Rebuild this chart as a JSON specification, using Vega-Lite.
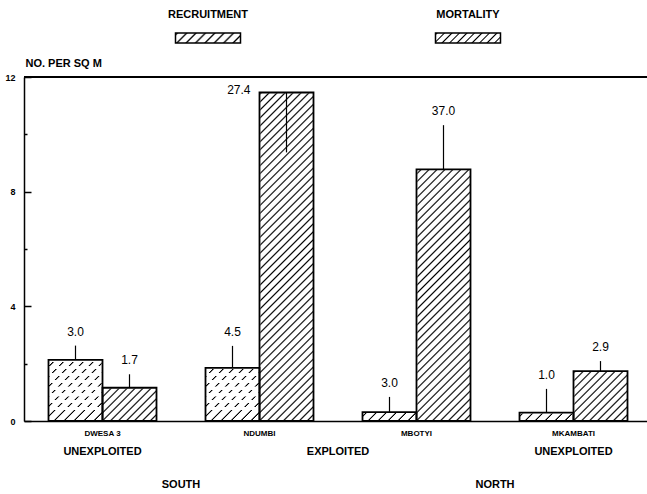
{
  "$schema": "https://vega.github.io/schema/vega-lite/v6.json",
  "width": 628,
  "height": 344,
  "autosize": "none",
  "padding": {"left": 24, "top": 77, "right": 0, "bottom": 73},
  "background": "white",
  "config": {"view": {"stroke": null}, "font": "Liberation Sans", "axis": {"grid": false}},
  "resolve": {"scale": {"x": "independent"}},
  "layer": [
    {
      "data": {"values": [
        {"site": "DWESA 3", "type": "Recruitment", "value": 2.13, "err": 2.63, "label": "3.0"},
        {"site": "DWESA 3", "type": "Mortality", "value": 1.16, "err": 1.63, "label": "1.7"},
        {"site": "NDUMBI", "type": "Recruitment", "value": 1.85, "err": 2.62, "label": "4.5"},
        {"site": "NDUMBI", "type": "Mortality", "value": 11.46, "err": 9.37, "label": "27.4"},
        {"site": "MBOTYI", "type": "Recruitment", "value": 0.31, "err": 0.84, "label": "3.0"},
        {"site": "MBOTYI", "type": "Mortality", "value": 8.78, "err": 10.32, "label": "37.0"},
        {"site": "MKAMBATI", "type": "Recruitment", "value": 0.29, "err": 1.12, "label": "1.0"},
        {"site": "MKAMBATI", "type": "Mortality", "value": 1.74, "err": 2.09, "label": "2.9"}
      ]},
      "layer": [
        {
          "mark": {"type": "bar"},
          "encoding": {
            "x": {"field": "site", "type": "nominal", "sort": null, "title": null,
                  "scale": {"domain": ["DWESA 3", "NDUMBI", "MBOTYI", "MKAMBATI"], "paddingInner": 0.3121, "paddingOuter": 0.15605},
                  "axis": {"title": null, "ticks": false, "domainColor": "#000", "domainWidth": 1.5, "labelFontSize": 8, "labelFontWeight": "bold", "labelColor": "#000", "labelPadding": 8, "labelAngle": 0}},
            "xOffset": {"field": "type", "type": "nominal", "sort": null, "scale": {"domain": ["Recruitment", "Mortality"], "paddingInner": 0, "paddingOuter": 0}},
            "y": {"datum": 0, "type": "quantitative", "scale": {"domain": [0, 12], "nice": false}},
            "y2": {"datum": 12},
            "fill": {
              "condition": {"test": "datum.type === 'Mortality'", "value": {"gradient": "linear", "x1": 0, "y1": 0, "x2": 0.17725, "y2": 1.12915, "stops": [
                {"offset":0,"color":"#fff"},{"offset":0.004,"color":"#000"},{"offset":0.008,"color":"#fff"},
                {"offset":0.02,"color":"#fff"},{"offset":0.024,"color":"#000"},{"offset":0.028,"color":"#fff"},
                {"offset":0.04,"color":"#fff"},{"offset":0.044,"color":"#000"},{"offset":0.048,"color":"#fff"},
                {"offset":0.06,"color":"#fff"},{"offset":0.064,"color":"#000"},{"offset":0.068,"color":"#fff"},
                {"offset":0.08,"color":"#fff"},{"offset":0.084,"color":"#000"},{"offset":0.088,"color":"#fff"},
                {"offset":0.1,"color":"#fff"},{"offset":0.104,"color":"#000"},{"offset":0.108,"color":"#fff"},
                {"offset":0.12,"color":"#fff"},{"offset":0.124,"color":"#000"},{"offset":0.128,"color":"#fff"},
                {"offset":0.14,"color":"#fff"},{"offset":0.144,"color":"#000"},{"offset":0.148,"color":"#fff"},
                {"offset":0.16,"color":"#fff"},{"offset":0.164,"color":"#000"},{"offset":0.168,"color":"#fff"},
                {"offset":0.18,"color":"#fff"},{"offset":0.184,"color":"#000"},{"offset":0.188,"color":"#fff"},
                {"offset":0.2,"color":"#fff"},{"offset":0.204,"color":"#000"},{"offset":0.208,"color":"#fff"},
                {"offset":0.22,"color":"#fff"},{"offset":0.224,"color":"#000"},{"offset":0.228,"color":"#fff"},
                {"offset":0.24,"color":"#fff"},{"offset":0.244,"color":"#000"},{"offset":0.248,"color":"#fff"},
                {"offset":0.26,"color":"#fff"},{"offset":0.264,"color":"#000"},{"offset":0.268,"color":"#fff"},
                {"offset":0.28,"color":"#fff"},{"offset":0.284,"color":"#000"},{"offset":0.288,"color":"#fff"},
                {"offset":0.3,"color":"#fff"},{"offset":0.304,"color":"#000"},{"offset":0.308,"color":"#fff"},
                {"offset":0.32,"color":"#fff"},{"offset":0.324,"color":"#000"},{"offset":0.328,"color":"#fff"},
                {"offset":0.34,"color":"#fff"},{"offset":0.344,"color":"#000"},{"offset":0.348,"color":"#fff"},
                {"offset":0.36,"color":"#fff"},{"offset":0.364,"color":"#000"},{"offset":0.368,"color":"#fff"},
                {"offset":0.38,"color":"#fff"},{"offset":0.384,"color":"#000"},{"offset":0.388,"color":"#fff"},
                {"offset":0.4,"color":"#fff"},{"offset":0.404,"color":"#000"},{"offset":0.408,"color":"#fff"},
                {"offset":0.42,"color":"#fff"},{"offset":0.424,"color":"#000"},{"offset":0.428,"color":"#fff"},
                {"offset":0.44,"color":"#fff"},{"offset":0.444,"color":"#000"},{"offset":0.448,"color":"#fff"},
                {"offset":0.46,"color":"#fff"},{"offset":0.464,"color":"#000"},{"offset":0.468,"color":"#fff"},
                {"offset":0.48,"color":"#fff"},{"offset":0.484,"color":"#000"},{"offset":0.488,"color":"#fff"},
                {"offset":0.5,"color":"#fff"},{"offset":0.504,"color":"#000"},{"offset":0.508,"color":"#fff"},
                {"offset":0.52,"color":"#fff"},{"offset":0.524,"color":"#000"},{"offset":0.528,"color":"#fff"},
                {"offset":0.54,"color":"#fff"},{"offset":0.544,"color":"#000"},{"offset":0.548,"color":"#fff"},
                {"offset":0.56,"color":"#fff"},{"offset":0.564,"color":"#000"},{"offset":0.568,"color":"#fff"},
                {"offset":0.58,"color":"#fff"},{"offset":0.584,"color":"#000"},{"offset":0.588,"color":"#fff"},
                {"offset":0.6,"color":"#fff"},{"offset":0.604,"color":"#000"},{"offset":0.608,"color":"#fff"},
                {"offset":0.62,"color":"#fff"},{"offset":0.624,"color":"#000"},{"offset":0.628,"color":"#fff"},
                {"offset":0.64,"color":"#fff"},{"offset":0.644,"color":"#000"},{"offset":0.648,"color":"#fff"},
                {"offset":0.66,"color":"#fff"},{"offset":0.664,"color":"#000"},{"offset":0.668,"color":"#fff"},
                {"offset":0.68,"color":"#fff"},{"offset":0.684,"color":"#000"},{"offset":0.688,"color":"#fff"},
                {"offset":0.7,"color":"#fff"},{"offset":0.704,"color":"#000"},{"offset":0.708,"color":"#fff"},
                {"offset":0.72,"color":"#fff"},{"offset":0.724,"color":"#000"},{"offset":0.728,"color":"#fff"},
                {"offset":0.74,"color":"#fff"},{"offset":0.744,"color":"#000"},{"offset":0.748,"color":"#fff"},
                {"offset":0.76,"color":"#fff"},{"offset":0.764,"color":"#000"},{"offset":0.768,"color":"#fff"},
                {"offset":0.78,"color":"#fff"},{"offset":0.784,"color":"#000"},{"offset":0.788,"color":"#fff"},
                {"offset":0.8,"color":"#fff"},{"offset":0.804,"color":"#000"},{"offset":0.808,"color":"#fff"},
                {"offset":0.82,"color":"#fff"},{"offset":0.824,"color":"#000"},{"offset":0.828,"color":"#fff"},
                {"offset":0.84,"color":"#fff"},{"offset":0.844,"color":"#000"},{"offset":0.848,"color":"#fff"},
                {"offset":0.86,"color":"#fff"},{"offset":0.864,"color":"#000"},{"offset":0.868,"color":"#fff"},
                {"offset":0.88,"color":"#fff"},{"offset":0.884,"color":"#000"},{"offset":0.888,"color":"#fff"},
                {"offset":0.9,"color":"#fff"},{"offset":0.904,"color":"#000"},{"offset":0.908,"color":"#fff"},
                {"offset":0.92,"color":"#fff"},{"offset":0.924,"color":"#000"},{"offset":0.928,"color":"#fff"},
                {"offset":0.94,"color":"#fff"},{"offset":0.944,"color":"#000"},{"offset":0.948,"color":"#fff"},
                {"offset":0.96,"color":"#fff"},{"offset":0.964,"color":"#000"},{"offset":0.968,"color":"#fff"},
                {"offset":0.98,"color":"#fff"},{"offset":0.984,"color":"#000"},{"offset":0.988,"color":"#fff"}
              ]}},
              "value": {"gradient": "linear", "x1": 0, "y1": 0, "x2": 0.17725, "y2": 1.12915, "stops": [
                {"offset":0,"color":"#fff"},
                {"offset":0.675,"color":"#fff"},{"offset":0.677,"color":"#000"},{"offset":0.679,"color":"#000"},{"offset":0.681,"color":"#fff"},
                {"offset":0.7,"color":"#fff"},{"offset":0.702,"color":"#000"},{"offset":0.704,"color":"#000"},{"offset":0.706,"color":"#fff"},
                {"offset":0.725,"color":"#fff"},{"offset":0.727,"color":"#000"},{"offset":0.729,"color":"#000"},{"offset":0.731,"color":"#fff"},
                {"offset":0.75,"color":"#fff"},{"offset":0.752,"color":"#000"},{"offset":0.754,"color":"#000"},{"offset":0.756,"color":"#fff"},
                {"offset":0.775,"color":"#fff"},{"offset":0.777,"color":"#000"},{"offset":0.779,"color":"#000"},{"offset":0.781,"color":"#fff"},
                {"offset":0.8,"color":"#fff"},{"offset":0.802,"color":"#000"},{"offset":0.804,"color":"#000"},{"offset":0.806,"color":"#fff"},
                {"offset":0.825,"color":"#fff"},{"offset":0.827,"color":"#000"},{"offset":0.829,"color":"#000"},{"offset":0.831,"color":"#fff"},
                {"offset":0.85,"color":"#fff"},{"offset":0.852,"color":"#000"},{"offset":0.854,"color":"#000"},{"offset":0.856,"color":"#fff"},
                {"offset":0.875,"color":"#fff"},{"offset":0.877,"color":"#000"},{"offset":0.879,"color":"#000"},{"offset":0.881,"color":"#fff"},
                {"offset":0.9,"color":"#fff"},{"offset":0.902,"color":"#000"},{"offset":0.904,"color":"#000"},{"offset":0.906,"color":"#fff"},
                {"offset":0.925,"color":"#fff"},{"offset":0.927,"color":"#000"},{"offset":0.929,"color":"#000"},{"offset":0.931,"color":"#fff"},
                {"offset":0.95,"color":"#fff"},{"offset":0.952,"color":"#000"},{"offset":0.954,"color":"#000"},{"offset":0.956,"color":"#fff"},
                {"offset":0.975,"color":"#fff"},{"offset":0.977,"color":"#000"},{"offset":0.979,"color":"#000"},{"offset":0.981,"color":"#fff"}
              ]}
            }
          }
        },
        {
          "transform": [{"filter": "datum.type === 'Recruitment'"}],
          "mark": {"type": "bar", "fill": {"gradient": "linear", "x1": 0, "y1": 0, "x2": 0, "y2": 1, "stops": [
            {"offset":0,"color":"rgba(255,255,255,0)"},{"offset":0.8,"color":"rgba(255,255,255,0)"},
            {"offset":0.8,"color":"#fff"},{"offset":0.8085,"color":"#fff"},{"offset":0.809,"color":"rgba(255,255,255,0)"},{"offset":0.8195,"color":"rgba(255,255,255,0)"},
            {"offset":0.82,"color":"#fff"},{"offset":0.8285,"color":"#fff"},{"offset":0.829,"color":"rgba(255,255,255,0)"},{"offset":0.8395,"color":"rgba(255,255,255,0)"},
            {"offset":0.84,"color":"#fff"},{"offset":0.8485,"color":"#fff"},{"offset":0.849,"color":"rgba(255,255,255,0)"},{"offset":0.8595,"color":"rgba(255,255,255,0)"},
            {"offset":0.86,"color":"#fff"},{"offset":0.8685,"color":"#fff"},{"offset":0.869,"color":"rgba(255,255,255,0)"},{"offset":0.8795,"color":"rgba(255,255,255,0)"},
            {"offset":0.88,"color":"#fff"},{"offset":0.8885,"color":"#fff"},{"offset":0.889,"color":"rgba(255,255,255,0)"},{"offset":0.8995,"color":"rgba(255,255,255,0)"},
            {"offset":0.9,"color":"#fff"},{"offset":0.9085,"color":"#fff"},{"offset":0.909,"color":"rgba(255,255,255,0)"},{"offset":0.9195,"color":"rgba(255,255,255,0)"},
            {"offset":0.92,"color":"#fff"},{"offset":0.9285,"color":"#fff"},{"offset":0.929,"color":"rgba(255,255,255,0)"},{"offset":0.9395,"color":"rgba(255,255,255,0)"},
            {"offset":0.94,"color":"#fff"},{"offset":0.9485,"color":"#fff"},{"offset":0.949,"color":"rgba(255,255,255,0)"},{"offset":0.9595,"color":"rgba(255,255,255,0)"},
            {"offset":0.96,"color":"#fff"},{"offset":0.9685,"color":"#fff"},{"offset":0.969,"color":"rgba(255,255,255,0)"},{"offset":1,"color":"rgba(255,255,255,0)"}
          ]}},
          "encoding": {
            "x": {"field": "site", "type": "nominal", "title": null},
            "xOffset": {"field": "type", "type": "nominal"},
            "y": {"datum": 0, "type": "quantitative", "scale": {"domain": [0, 12], "nice": false}},
            "y2": {"datum": 12}
          }
        },
        {
          "mark": {"type": "bar", "fill": "#fff", "stroke": "#fff", "strokeWidth": 1.6},
          "encoding": {
            "x": {"field": "site", "type": "nominal", "title": null},
            "xOffset": {"field": "type", "type": "nominal"},
            "y": {"field": "value", "type": "quantitative", "scale": {"domain": [0, 12], "nice": false}},
            "y2": {"datum": 12}
          }
        },
        {
          "mark": {"type": "bar", "filled": false, "stroke": "#000", "strokeWidth": 1.8},
          "encoding": {
            "x": {"field": "site", "type": "nominal", "title": null},
            "xOffset": {"field": "type", "type": "nominal"},
            "y": {"field": "value", "type": "quantitative", "stack": null, "scale": {"domain": [0, 12], "nice": false},
                  "axis": {"title": "NO. PER SQ M", "titleAngle": 0, "titleAlign": "left", "titleBaseline": "middle", "titleX": 1, "titleY": -14,
                           "titleFontSize": 11, "titleFontWeight": "bold", "titleColor": "#000",
                           "values": [0, 2, 4, 6, 8, 10, 12], "labelExpr": "datum.value % 4 === 0 ? datum.label : ''",
                           "labelFontSize": 9, "labelFontWeight": "bold", "labelColor": "#000", "labelPadding": 16,
                           "tickSize": {"condition": {"test": "datum.value % 4 === 0", "value": -7}, "value": -3},
                           "tickColor": "#000", "tickWidth": 1.5, "domainColor": "#000", "domainWidth": 1.5, "grid": false}}
          }
        },
        {
          "mark": {"type": "rule", "stroke": "#000", "strokeWidth": 1.2},
          "encoding": {
            "x": {"field": "site", "type": "nominal", "title": null},
            "xOffset": {"field": "type", "type": "nominal"},
            "y": {"field": "value", "type": "quantitative", "scale": {"domain": [0, 12], "nice": false}},
            "y2": {"field": "err"}
          }
        },
        {
          "transform": [{"filter": "datum.err > datum.value"}],
          "mark": {"type": "text", "fontSize": 12, "dy": -14, "baseline": "middle", "color": "#000"},
          "encoding": {
            "x": {"field": "site", "type": "nominal", "title": null},
            "xOffset": {"field": "type", "type": "nominal"},
            "y": {"field": "err", "type": "quantitative", "scale": {"domain": [0, 12], "nice": false}},
            "text": {"field": "label"}
          }
        },
        {
          "transform": [{"filter": "datum.err < datum.value"}],
          "mark": {"type": "text", "fontSize": 12, "align": "right", "dx": -36, "dy": -2, "baseline": "middle", "color": "#000"},
          "encoding": {
            "x": {"field": "site", "type": "nominal", "title": null},
            "xOffset": {"field": "type", "type": "nominal"},
            "y": {"field": "value", "type": "quantitative", "scale": {"domain": [0, 12], "nice": false}},
            "text": {"field": "label"}
          }
        },
        {
          "mark": {"type": "rule", "stroke": "#000", "strokeWidth": 1.5},
          "encoding": {"y": {"datum": 12, "type": "quantitative", "scale": {"domain": [0, 12], "nice": false}}}
        },
        {
          "data": {"values": [{"name": "UNEXPLOITED", "site": "DWESA 3"}, {"name": "UNEXPLOITED", "site": "MKAMBATI"}]},
          "mark": {"type": "text", "fontSize": 11, "fontWeight": "bold", "baseline": "middle", "color": "#000"},
          "encoding": {
            "x": {"field": "site", "type": "nominal", "title": null},
            "y": {"datum": -1.08, "type": "quantitative", "scale": {"domain": [0, 12], "nice": false}},
            "text": {"field": "name"}
          }
        },
        {
          "data": {"values": [{"name": "EXPLOITED", "site": "NDUMBI"}]},
          "mark": {"type": "text", "fontSize": 11, "fontWeight": "bold", "baseline": "middle", "color": "#000"},
          "encoding": {
            "x": {"field": "site", "type": "nominal", "title": null, "bandPosition": 1.2269},
            "y": {"datum": -1.08, "type": "quantitative", "scale": {"domain": [0, 12], "nice": false}},
            "text": {"field": "name"}
          }
        },
        {
          "data": {"values": [{"name": "SOUTH", "site": "DWESA 3"}, {"name": "NORTH", "site": "MBOTYI"}]},
          "mark": {"type": "text", "fontSize": 11, "fontWeight": "bold", "baseline": "middle", "color": "#000"},
          "encoding": {
            "x": {"field": "site", "type": "nominal", "title": null, "bandPosition": 1.2269},
            "y": {"datum": -2.23, "type": "quantitative", "scale": {"domain": [0, 12], "nice": false}},
            "text": {"field": "name"}
          }
        }
      ]
    },
    {
      "data": {"values": [{"label": "RECRUITMENT", "type": "Recruitment"}, {"label": "MORTALITY", "type": "Mortality"}]},
      "layer": [
        {
          "mark": {"type": "bar", "stroke": "#000", "strokeWidth": 1.5},
          "encoding": {
            "x": {"field": "label", "type": "nominal", "sort": null, "axis": null, "scale": {"domain": ["RECRUITMENT", "MORTALITY"], "paddingInner": 0.75, "paddingOuter": 0.5827}},
            "y": {"datum": 13.186, "type": "quantitative", "scale": {"domain": [0, 12], "nice": false}},
            "y2": {"datum": 13.535},
            "fill": {
              "condition": {"test": "datum.type === 'Mortality'", "value": {"gradient": "linear", "x1": 0, "y1": 0, "x2": 1.12717, "y2": 0.17341, "stops": [
                {"offset":0,"color":"#fff"},{"offset":0.02,"color":"#000"},{"offset":0.04,"color":"#fff"},
                {"offset":0.1,"color":"#fff"},{"offset":0.12,"color":"#000"},{"offset":0.14,"color":"#fff"},
                {"offset":0.2,"color":"#fff"},{"offset":0.22,"color":"#000"},{"offset":0.24,"color":"#fff"},
                {"offset":0.3,"color":"#fff"},{"offset":0.32,"color":"#000"},{"offset":0.34,"color":"#fff"},
                {"offset":0.4,"color":"#fff"},{"offset":0.42,"color":"#000"},{"offset":0.44,"color":"#fff"},
                {"offset":0.5,"color":"#fff"},{"offset":0.52,"color":"#000"},{"offset":0.54,"color":"#fff"},
                {"offset":0.6,"color":"#fff"},{"offset":0.62,"color":"#000"},{"offset":0.64,"color":"#fff"},
                {"offset":0.7,"color":"#fff"},{"offset":0.72,"color":"#000"},{"offset":0.74,"color":"#fff"},
                {"offset":0.8,"color":"#fff"},{"offset":0.82,"color":"#000"},{"offset":0.84,"color":"#fff"},
                {"offset":0.9,"color":"#fff"},{"offset":0.92,"color":"#000"},{"offset":0.94,"color":"#fff"}
              ]}},
              "value": {"gradient": "linear", "x1": 0, "y1": 0, "x2": 1.12717, "y2": 0.17341, "stops": [
                {"offset":0,"color":"#fff"},{"offset":0.025,"color":"#000"},{"offset":0.05,"color":"#fff"},
                {"offset":0.125,"color":"#fff"},{"offset":0.15,"color":"#000"},{"offset":0.175,"color":"#fff"},
                {"offset":0.25,"color":"#fff"},{"offset":0.275,"color":"#000"},{"offset":0.3,"color":"#fff"},
                {"offset":0.375,"color":"#fff"},{"offset":0.4,"color":"#000"},{"offset":0.425,"color":"#fff"},
                {"offset":0.5,"color":"#fff"},{"offset":0.525,"color":"#000"},{"offset":0.55,"color":"#fff"},
                {"offset":0.625,"color":"#fff"},{"offset":0.65,"color":"#000"},{"offset":0.675,"color":"#fff"},
                {"offset":0.75,"color":"#fff"},{"offset":0.775,"color":"#000"},{"offset":0.8,"color":"#fff"},
                {"offset":0.875,"color":"#fff"},{"offset":0.9,"color":"#000"},{"offset":0.925,"color":"#fff"}
              ]}
            }
          }
        },
        {
          "mark": {"type": "text", "fontSize": 11, "fontWeight": "bold", "baseline": "middle", "color": "#000"},
          "encoding": {
            "x": {"field": "label", "type": "nominal", "sort": null, "axis": null},
            "y": {"datum": 14.163, "type": "quantitative", "scale": {"domain": [0, 12], "nice": false}},
            "text": {"field": "label"}
          }
        }
      ]
    }
  ]
}
